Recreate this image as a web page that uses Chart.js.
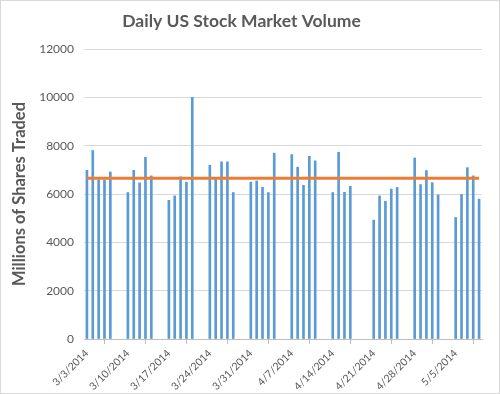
<!DOCTYPE html>
<html>
<head>
<meta charset="utf-8">
<script src="https://cdn.jsdelivr.net/npm/chart.js@4"></script>
<style>
    html, body { margin: 0; padding: 0; background: #fff; }
    #wrap { position: relative; width: 498px; height: 392px; border: 1px solid #D9D9D9; }
</style>
</head>
<body>
<div id="wrap"><canvas id="chart"></canvas></div>
<script>

// trading days shown on the chart (weekends / holidays are gaps)
const tradingDays = [
    '2014-03-03', '2014-03-04', '2014-03-05', '2014-03-06', '2014-03-07',
    '2014-03-10', '2014-03-11', '2014-03-12', '2014-03-13', '2014-03-14',
    '2014-03-17', '2014-03-18', '2014-03-19', '2014-03-20', '2014-03-21',
    '2014-03-24', '2014-03-25', '2014-03-26', '2014-03-27', '2014-03-28',
    '2014-03-31', '2014-04-01', '2014-04-02', '2014-04-03', '2014-04-04',
    '2014-04-07', '2014-04-08', '2014-04-09', '2014-04-10', '2014-04-11',
    '2014-04-14', '2014-04-15', '2014-04-16', '2014-04-17',
    '2014-04-21', '2014-04-22', '2014-04-23', '2014-04-24', '2014-04-25',
    '2014-04-28', '2014-04-29', '2014-04-30', '2014-05-01', '2014-05-02',
    '2014-05-05', '2014-05-06', '2014-05-07', '2014-05-08', '2014-05-09'
]

// millions of shares traded per day
const volumes = [
    6980, 7800, 6580, 6580, 6910,
    6060, 6980, 6460, 7520, 6750,
    5740, 5920, 6710, 6490, 10000,
    7190, 6630, 7330, 7330, 6060,
    6490, 6540, 6280, 6060, 7690,
    7630, 7110, 6360, 7560, 7370,
    6060, 7730, 6070, 6320,
    4920, 5920, 5700, 6200, 6270,
    7490, 6390, 6970, 6470, 5960,
    5030, 5980, 7090, 6750, 5790
]

// average line (orange)
const averageVolume = [6650, 6650]

const weekLabels = ['3/3/2014', '3/10/2014', '3/17/2014', '3/24/2014', '3/31/2014',
    '4/7/2014', '4/14/2014', '4/21/2014', '4/28/2014', '5/5/2014']

const yTicks = [0, 2000, 4000, 6000, 8000, 10000, 12000]

const startDate = Date.UTC(2014, 2, 3)
const dayCount = 68

// day offset from 3/3/2014, bar sits in the middle of its day slot
function dayPos(iso){
    let p = iso.split('-')
    return (Date.UTC(+p[0], +p[1] - 1, +p[2]) - startDate) / 86400000 + 0.5
}

const barData = tradingDays.map((d, i) => ({ x: dayPos(d), y: volumes[i] }))
const avgData = [
    { x: dayPos(tradingDays[0]), y: averageVolume[0] },
    { x: dayPos(tradingDays[tradingDays.length - 1]), y: averageVolume[1] }
]

const gray = '#595959'
const font = 'Lato, "Liberation Sans", sans-serif'

new Chart(document.getElementById('chart'), {
    type: 'bar',
    data: {
        datasets: [
            {
                type: 'line',
                data: avgData,
                borderColor: '#ED7D31',
                borderWidth: 3,
                pointRadius: 0,
                order: 0
            },
            {
                data: barData,
                backgroundColor: '#5B9BD5',
                barThickness: 2,
                order: 1
            }
        ]
    },
    options: {
        responsive: true,
        maintainAspectRatio: false,
        animation: false,
        layout: { padding: { left: 0, right: 17, top: 0, bottom: 0 } },
        plugins: {
            legend: { display: false },
            tooltip: { enabled: false },
            title: {
                display: true,
                text: 'Daily US Stock Market Volume',
                color: gray,
                font: { family: font, size: 17.5, weight: 'bold' },
                padding: { top: 10, bottom: 17 }
            }
        },
        scales: {
            x: {
                type: 'linear',
                min: 0,
                max: dayCount,
                offset: false,
                afterBuildTicks(scale){
                    scale.ticks = weekLabels.map((l, i) => ({ value: i * 7 }))
                },
                afterFit(scale){
                    // keep the plot where excel put it, rotated labels may spill left
                    scale.height = 54
                    scale.paddingLeft = 0
                    scale.paddingRight = 0
                },
                ticks: {
                    color: gray,
                    font: { family: font, size: 10.5 },
                    minRotation: 45,
                    maxRotation: 45,
                    padding: 3,
                    labelOffset: 3,
                    callback: (v, i) => weekLabels[i]
                },
                grid: {
                    drawOnChartArea: false,
                    drawTicks: true,
                    tickLength: 5,
                    color: '#BFBFBF'
                },
                border: { color: '#BFBFBF' }
            },
            y: {
                min: 0,
                max: 12000,
                afterBuildTicks(scale){
                    scale.ticks = yTicks.map(v => ({ value: v }))
                },
                afterFit(scale){
                    scale.width = 83
                },
                ticks: {
                    color: gray,
                    font: { family: font, size: 12 },
                    padding: 10,
                    callback: v => String(v)
                },
                grid: {
                    color: '#D9D9D9',
                    drawTicks: false
                },
                border: { display: false },
                title: {
                    display: true,
                    text: 'Millions of Shares Traded',
                    color: gray,
                    font: { family: font, size: 16.5, weight: 'bold' },
                    padding: { top: 9, bottom: 0 }
                }
            }
        }
    }
})
</script>
</body>
</html>
